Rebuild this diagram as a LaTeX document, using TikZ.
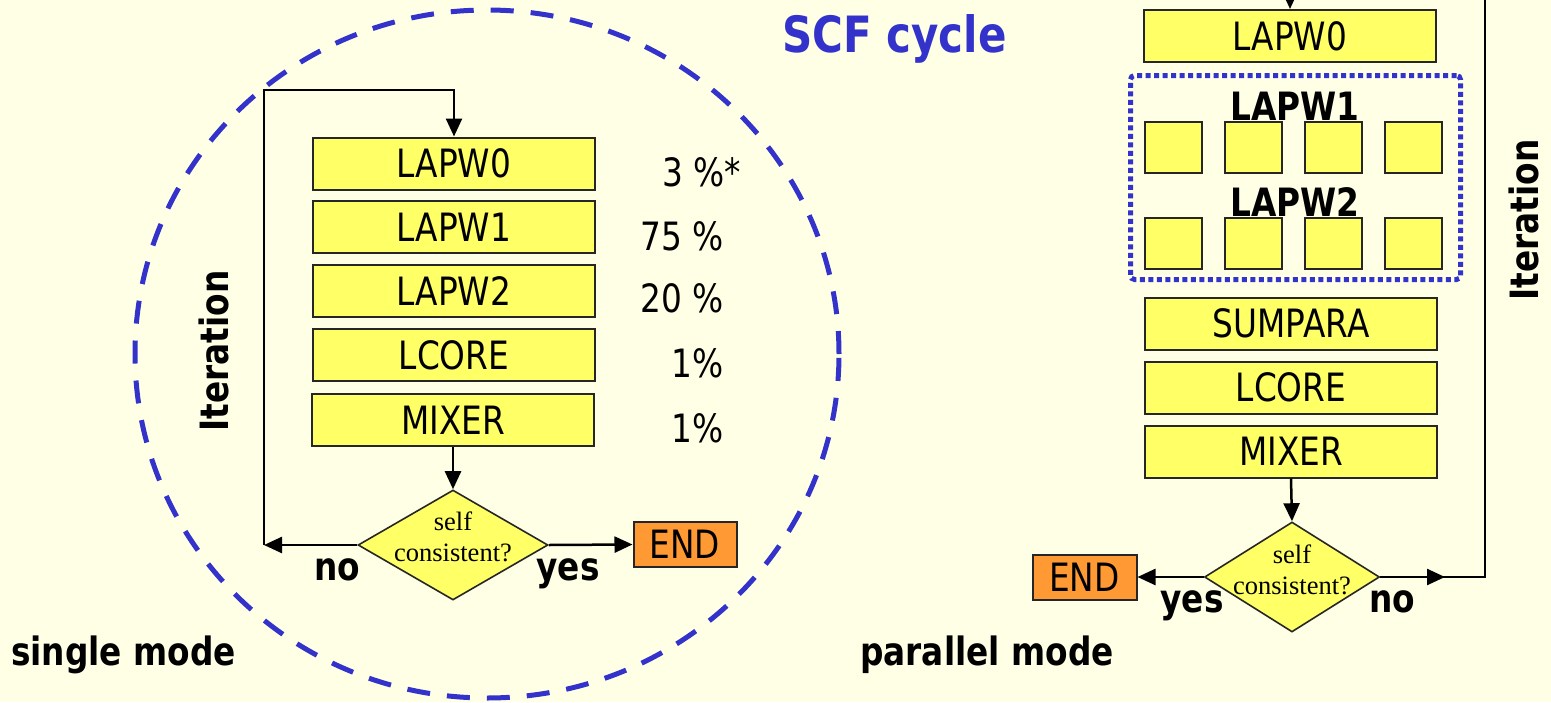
\documentclass[tikz,border=0pt]{standalone}
\usepackage{fontspec}
\setmainfont{DejaVu Sans}[FakeStretch=0.84]
\newfontfamily\diafont{Liberation Serif}
\usetikzlibrary{shapes.geometric,arrows.meta}
\definecolor{bgc}{RGB}{255,255,229}
\definecolor{boxy}{RGB}{255,255,102}
\definecolor{endo}{RGB}{255,153,51}
\definecolor{scfb}{RGB}{51,51,204}
\newcommand{\boxfont}{\fontsize{39}{47}\selectfont}
\newcommand{\lblfont}{\fontsize{39}{47}\selectfont\bfseries}
\begin{document}
\begin{tikzpicture}[x=1pt,y=-1pt,
  box/.style={draw=black!85, line width=2pt, fill=boxy, inner sep=0pt,
    minimum width=282pt, minimum height=52pt, font=\boxfont},
  rbox/.style={box, minimum width=292pt},
  sqbox/.style={box, minimum width=57pt, minimum height=51pt},
  endbox/.style={box, fill=endo, minimum width=103pt, minimum height=45pt},
  dia/.style={diamond, draw=black!85, line width=1.6pt, fill=boxy, inner sep=0pt,
    minimum width=190pt, minimum height=110pt},
  diatext/.style={font=\diafont\fontsize{26.5}{31}\selectfont, align=center, inner sep=0pt},
  pct/.style={font=\boxfont, inner sep=0pt, anchor=east},
  lbl/.style={font=\lblfont, inner sep=0pt},
  arr/.style={line width=2.5pt, -{Triangle[length=18pt,width=16pt]}},
  grpbox/.style={draw=scfb, line width=5pt, dash pattern=on 5pt off 3.5pt,
    rounded corners=4pt, inner sep=0pt, minimum width=330pt, minimum height=204pt}
]
\useasboundingbox (0,0) rectangle (1551,702);
\clip (0,0) rectangle (1551,702);
\fill[bgc] (0,0) rectangle (1551,702);

% dashed SCF circle
\draw[scfb, line width=5pt, dash pattern=on 23pt off 17pt]
  (487,354) ellipse [x radius=352pt, y radius=344pt];
\node[font=\fontsize{50}{60}\selectfont\bfseries, text=scfb, inner sep=0pt, anchor=base west]
  (scf) at (782,52) {SCF cycle};

% ---------- single mode ----------
\node[box] (l0) at (454,163.5) {LAPW0};
\node[box] (l1) at (454,227) {LAPW1};
\node[box] (l2) at (454,291) {LAPW2};
\node[box] (l3) at (454,355) {LCORE};
\node[box] (l4) at (453,420) {MIXER};

\node[pct] (p0) at (741,172) {3 \%*};
\node[pct] (p1) at (724,236) {75 \%};
\node[pct] (p2) at (724,298) {20 \%};
\node[pct] (p3) at (724,363) {1\%};
\node[pct] (p4) at (724,428) {1\%};

\node[dia] (d1) at (453,545) {};
\node[diatext] (d1t) at (453,537) {self\\consistent?};
\node[endbox] (e1) at (685,544.5) {END};

\coordinate (lc) at (264,545);
\coordinate (lt) at (264,90);
\draw[arr] (l4.south) -- (d1.north);
\draw[arr] (d1.east) -- (e1.west);
\draw[arr] (d1.west) -- (lc);
\draw[arr] (lc) -- (lt) -| (l0.north);

\node[lbl, anchor=base] (n1) at (337,580) {no};
\node[lbl, anchor=base] (y1) at (568,580) {yes};
\node[lbl, rotate=90] (it1) at (214,351) {Iteration};
\node[lbl, anchor=base west] (sm) at (11,665) {single mode};

% ---------- parallel mode ----------
\node[rbox] (r0) at (1290,36) {LAPW0};
\node[grpbox] (grp) at (1295.5,177.5) {};
\node[lbl] (w1) at (1295,106) {LAPW1};
\node[lbl] (w2) at (1295,202) {LAPW2};
\foreach \i/\x in {1/1173.5,2/1253.5,3/1333.5,4/1413.5}{
  \node[sqbox] (sa\i) at (\x,147.5) {};
  \node[sqbox] (sb\i) at (\x,243.5) {};
}
\node[rbox] (r4) at (1291,323.5) {SUMPARA};
\node[rbox] (r5) at (1291,387.5) {LCORE};
\node[rbox] (r6) at (1291,451.5) {MIXER};

\node[dia, minimum width=175pt] (d2) at (1292,577) {};
\node[diatext] (d2t) at (1292,570) {self\\consistent?};
\node[endbox, minimum width=104pt] (e2) at (1084.5,577) {END};

\coordinate (rm) at (1445,577);
\coordinate (rb) at (1485,577);
\coordinate (rt) at (1485,-30);
\draw[arr] (r6.south) -- (d2.north);
\draw[arr] (d2.west) -- (e2.east);
\draw[arr] (d2.east) -- (rm);
\draw[arr] (d2.east) -- (rb) -- (rt) -| (r0.north);

\node[lbl, anchor=base] (y2) at (1192,612) {yes};
\node[lbl, anchor=base] (n2) at (1392,612) {no};
\node[lbl, rotate=90] (it2) at (1524,220) {Iteration};
\node[lbl, anchor=base west] (pm) at (860,665) {parallel mode};
\end{tikzpicture}
\end{document}
